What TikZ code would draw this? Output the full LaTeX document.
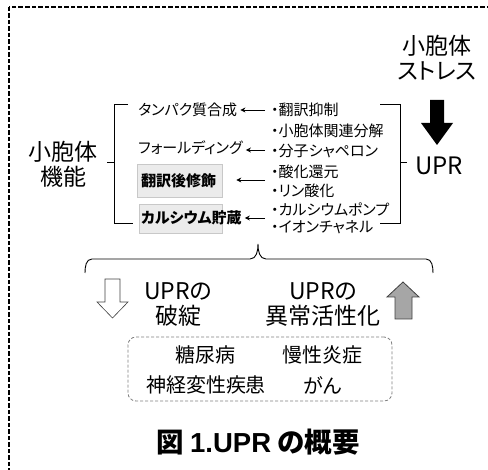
\documentclass[tikz,border=0pt]{standalone}
\usepackage{fontspec}
\setmainfont{Noto Sans CJK JP}[RawFeature={+palt}]
\newfontfamily\lsans{Liberation Sans}
\usetikzlibrary{arrows.meta}
\definecolor{boxfill}{HTML}{EBEBEB}
\definecolor{boxline}{HTML}{C8C8C8}
\definecolor{upgray}{HTML}{A6A6A6}
\definecolor{dashgray}{HTML}{7F7F7F}
\begin{document}
\begin{tikzpicture}[x=1pt,y=-1pt,
  big/.style={font=\fontsize{23}{25}\selectfont, inner sep=0pt, align=center},
  mid/.style={font=\fontsize{15}{18}\selectfont, inner sep=1pt, anchor=west},
  midb/.style={font=\fontsize{15}{18}\selectfont\bfseries, inner sep=1pt, anchor=west},
  dis/.style={font=\fontsize{20}{22}\selectfont, inner sep=0pt},
  gbox/.style={draw=boxline, fill=boxfill, line width=0.6pt},
  arr/.style={-{Stealth[length=5pt,width=5pt]}, line width=0.8pt, shorten >=2pt},
  brk/.style={line width=0.9pt},
]
\useasboundingbox (0,0) rectangle (488,470);
\clip (0,0) rectangle (488,470);
\draw[line width=1.3pt, dash pattern=on 4.5pt off 2pt] (9,7) rectangle (530,520);

% left label and right labels
\node[big] (func) at (63,164.5) {小胞体\\機能};
\node[big] (stress) at (437,57.5) {小胞体\\ストレス};
\node[big, font=\fontsize{24}{26}\selectfont] (upr) at (439,166) {UPR};

% black arrow
\fill (430,100) -- (444,100) -- (444,123) -- (453,123) -- (437,145) -- (421,123) -- (430,123) -- cycle;

% brackets
\draw[brk] (128,104) -- (114,104) -- (114,223) -- (133,223);
\draw[brk] (107,162) -- (114,162);
\draw[brk] (380,104) -- (400,104) -- (400,223) -- (380,223);
\draw[brk] (400,162) -- (407,162);

% left column
\node[mid] (l1) at (137,110) {タンパク質合成};
\node[mid] (l2) at (137,148) {フォールディング};
\node[gbox, minimum width=85pt, minimum height=33pt] (b3) at (179.5,180.5) {};
\node[midb] (l3) at (140,181) {翻訳後修飾};
\node[gbox, minimum width=83pt, minimum height=29pt] (b4) at (180.5,218.5) {};
\node[midb] (l4) at (140,218) {カルシウム貯蔵};

% right column
\node[mid] (r1) at (270,110) {・翻訳抑制};
\node[mid] (r2) at (270,131) {・小胞体関連分解};
\node[mid] (r3) at (270,151) {・分子シャペロン};
\node[mid] (r4) at (270,172) {・酸化還元};
\node[mid] (r5) at (270,191) {・リン酸化};
\node[mid] (r6) at (270,209) {・カルシウムポンプ};
\node[mid] (r7) at (270,227) {・イオンチャネル};

% arrows
\coordinate (c1) at (265,110);
\coordinate (c2) at (265,150);
\coordinate (c3) at (265,180);
\coordinate (c4) at (265,218);
\draw[arr] (c1) -- (l1.east |- c1);
\draw[arr] (c2) -- (l2.east |- c2);
\draw[arr] (c3) -- ([xshift=12pt]b3.east |- c3);
\draw[arr] (c4) -- (l4.east |- c4);

% brace
\draw[line width=0.9pt] (85,273) to[out=90,in=180] (92,259) -- (250,259)
  to[out=0,in=-90] (258,244) to[out=-90,in=180] (266,259) -- (426,259)
  to[out=0,in=90] (433,273);

% white down arrow
\draw[line width=0.6pt, draw=black!75, fill=white] (105,279) -- (120,279) -- (120,302) -- (128,302) -- (112.5,318) -- (97,302) -- (105,302) -- cycle;
% gray up arrow
\draw[line width=0.8pt, draw=black!75, fill=upgray] (395,319) -- (412,319) -- (412,297) -- (419,297) -- (403,282) -- (387,297) -- (395,297) -- cycle;

\node[big] (fail) at (178,304.5) {UPRの\\破綻};
\node[big] (act) at (323,304.5) {UPRの\\異常活性化};

% disease box
\node[draw=dashgray, line width=0.8pt, dash pattern=on 3pt off 2pt, rounded corners=8pt, minimum width=264pt, minimum height=64pt] (dbox) at (260,369) {};
\node[dis] (d1) at (205,355) {糖尿病};
\node[dis] (d2) at (322,355) {慢性炎症};
\node[dis] (d3) at (206,385) {神経変性疾患};
\node[dis] (d4) at (323,385) {がん};

% title
\node[font=\fontsize{27.5}{30}\selectfont\bfseries, inner sep=0pt] (title) at (258,442) {図 {\lsans 1.UPR} の概要};
\end{tikzpicture}
\end{document}
